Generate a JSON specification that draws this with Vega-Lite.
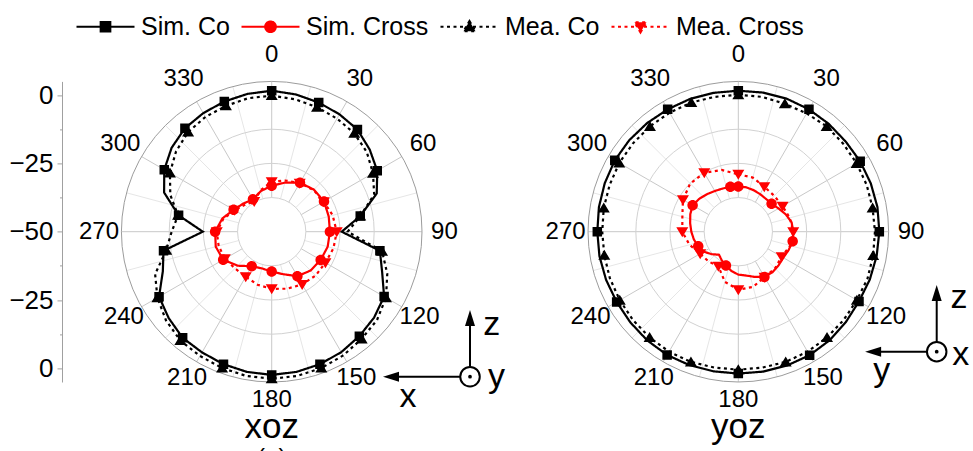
{
  "$schema": "https://vega.github.io/schema/vega-lite/v6.json",
  "width": 911,
  "height": 300.6,
  "autosize": {"type": "none"},
  "padding": {"left": 62, "top": 81.4, "right": 0, "bottom": 69},
  "config": {"view": {"stroke": null}, "font": "Liberation Sans"},
  "resolve": {"axis": {"y": "independent"}},
  "datasets": {
    "rings": [
      {"plot": "xoz", "db": -37.5}, {"plot": "xoz", "db": -25}, {"plot": "xoz", "db": -12.5}, {"plot": "xoz", "db": 5},
      {"plot": "yoz", "db": -37.5}, {"plot": "yoz", "db": -25}, {"plot": "yoz", "db": -12.5}, {"plot": "yoz", "db": 5}
    ],
    "spokes": [
      {"plot": "xoz", "angle": 0}, {"plot": "xoz", "angle": 15}, {"plot": "xoz", "angle": 30}, {"plot": "xoz", "angle": 45},
      {"plot": "xoz", "angle": 60}, {"plot": "xoz", "angle": 75}, {"plot": "xoz", "angle": 90}, {"plot": "xoz", "angle": 105},
      {"plot": "xoz", "angle": 120}, {"plot": "xoz", "angle": 135}, {"plot": "xoz", "angle": 150}, {"plot": "xoz", "angle": 165},
      {"plot": "xoz", "angle": 180}, {"plot": "xoz", "angle": 195}, {"plot": "xoz", "angle": 210}, {"plot": "xoz", "angle": 225},
      {"plot": "xoz", "angle": 240}, {"plot": "xoz", "angle": 255}, {"plot": "xoz", "angle": 270}, {"plot": "xoz", "angle": 285},
      {"plot": "xoz", "angle": 300}, {"plot": "xoz", "angle": 315}, {"plot": "xoz", "angle": 330}, {"plot": "xoz", "angle": 345},
      {"plot": "yoz", "angle": 0}, {"plot": "yoz", "angle": 15}, {"plot": "yoz", "angle": 30}, {"plot": "yoz", "angle": 45},
      {"plot": "yoz", "angle": 60}, {"plot": "yoz", "angle": 75}, {"plot": "yoz", "angle": 90}, {"plot": "yoz", "angle": 105},
      {"plot": "yoz", "angle": 120}, {"plot": "yoz", "angle": 135}, {"plot": "yoz", "angle": 150}, {"plot": "yoz", "angle": 165},
      {"plot": "yoz", "angle": 180}, {"plot": "yoz", "angle": 195}, {"plot": "yoz", "angle": 210}, {"plot": "yoz", "angle": 225},
      {"plot": "yoz", "angle": 240}, {"plot": "yoz", "angle": 255}, {"plot": "yoz", "angle": 270}, {"plot": "yoz", "angle": 285},
      {"plot": "yoz", "angle": 300}, {"plot": "yoz", "angle": 315}, {"plot": "yoz", "angle": 330}, {"plot": "yoz", "angle": 345}
    ],
    "curves": [
      {"plot": "xoz", "series": "Sim. Co", "angle": 0, "db": 1.6}, {"plot": "xoz", "series": "Sim. Co", "angle": 10, "db": 1.0},
      {"plot": "xoz", "series": "Sim. Co", "angle": 20, "db": 0.3}, {"plot": "xoz", "series": "Sim. Co", "angle": 30, "db": -0.4},
      {"plot": "xoz", "series": "Sim. Co", "angle": 40, "db": -1.2}, {"plot": "xoz", "series": "Sim. Co", "angle": 50, "db": -3.2},
      {"plot": "xoz", "series": "Sim. Co", "angle": 60, "db": -5.4}, {"plot": "xoz", "series": "Sim. Co", "angle": 70, "db": -9.1},
      {"plot": "xoz", "series": "Sim. Co", "angle": 80, "db": -17.1}, {"plot": "xoz", "series": "Sim. Co", "angle": 90, "db": -24.4},
      {"plot": "xoz", "series": "Sim. Co", "angle": 100, "db": -9.8}, {"plot": "xoz", "series": "Sim. Co", "angle": 110, "db": -7.0},
      {"plot": "xoz", "series": "Sim. Co", "angle": 120, "db": -2.5}, {"plot": "xoz", "series": "Sim. Co", "angle": 130, "db": -1.1},
      {"plot": "xoz", "series": "Sim. Co", "angle": 140, "db": -0.1}, {"plot": "xoz", "series": "Sim. Co", "angle": 150, "db": 0.9},
      {"plot": "xoz", "series": "Sim. Co", "angle": 160, "db": 1.6}, {"plot": "xoz", "series": "Sim. Co", "angle": 170, "db": 2.1},
      {"plot": "xoz", "series": "Sim. Co", "angle": 180, "db": 2.4}, {"plot": "xoz", "series": "Sim. Co", "angle": 190, "db": 2.1},
      {"plot": "xoz", "series": "Sim. Co", "angle": 200, "db": 1.6}, {"plot": "xoz", "series": "Sim. Co", "angle": 210, "db": 1.0},
      {"plot": "xoz", "series": "Sim. Co", "angle": 220, "db": 0.7}, {"plot": "xoz", "series": "Sim. Co", "angle": 230, "db": -0.8},
      {"plot": "xoz", "series": "Sim. Co", "angle": 240, "db": -2.4}, {"plot": "xoz", "series": "Sim. Co", "angle": 250, "db": -7.6},
      {"plot": "xoz", "series": "Sim. Co", "angle": 260, "db": -9.8}, {"plot": "xoz", "series": "Sim. Co", "angle": 270, "db": -24.8},
      {"plot": "xoz", "series": "Sim. Co", "angle": 280, "db": -15.4}, {"plot": "xoz", "series": "Sim. Co", "angle": 290, "db": -8.1},
      {"plot": "xoz", "series": "Sim. Co", "angle": 300, "db": -4.6}, {"plot": "xoz", "series": "Sim. Co", "angle": 310, "db": -2.2},
      {"plot": "xoz", "series": "Sim. Co", "angle": 320, "db": -0.6}, {"plot": "xoz", "series": "Sim. Co", "angle": 330, "db": 0.1},
      {"plot": "xoz", "series": "Sim. Co", "angle": 340, "db": 0.7}, {"plot": "xoz", "series": "Sim. Co", "angle": 350, "db": 1.2},
      {"plot": "xoz", "series": "Sim. Co", "angle": 360, "db": 1.6},

      {"plot": "xoz", "series": "Mea. Co", "angle": 0, "db": -0.2}, {"plot": "xoz", "series": "Mea. Co", "angle": 10, "db": -0.8},
      {"plot": "xoz", "series": "Mea. Co", "angle": 20, "db": -1.5}, {"plot": "xoz", "series": "Mea. Co", "angle": 30, "db": -2.2},
      {"plot": "xoz", "series": "Mea. Co", "angle": 40, "db": -3.0}, {"plot": "xoz", "series": "Mea. Co", "angle": 50, "db": -4.6},
      {"plot": "xoz", "series": "Mea. Co", "angle": 60, "db": -7.2}, {"plot": "xoz", "series": "Mea. Co", "angle": 70, "db": -10.1},
      {"plot": "xoz", "series": "Mea. Co", "angle": 80, "db": -17.1}, {"plot": "xoz", "series": "Mea. Co", "angle": 90, "db": -22.2},
      {"plot": "xoz", "series": "Mea. Co", "angle": 100, "db": -9.0}, {"plot": "xoz", "series": "Mea. Co", "angle": 110, "db": -5.0},
      {"plot": "xoz", "series": "Mea. Co", "angle": 120, "db": -1.7}, {"plot": "xoz", "series": "Mea. Co", "angle": 130, "db": 0.3},
      {"plot": "xoz", "series": "Mea. Co", "angle": 140, "db": 1.2}, {"plot": "xoz", "series": "Mea. Co", "angle": 150, "db": 2.3},
      {"plot": "xoz", "series": "Mea. Co", "angle": 160, "db": 3.1}, {"plot": "xoz", "series": "Mea. Co", "angle": 170, "db": 3.6},
      {"plot": "xoz", "series": "Mea. Co", "angle": 180, "db": 3.8}, {"plot": "xoz", "series": "Mea. Co", "angle": 190, "db": 3.6},
      {"plot": "xoz", "series": "Mea. Co", "angle": 200, "db": 3.1}, {"plot": "xoz", "series": "Mea. Co", "angle": 210, "db": 2.5},
      {"plot": "xoz", "series": "Mea. Co", "angle": 220, "db": 2.0}, {"plot": "xoz", "series": "Mea. Co", "angle": 230, "db": 0.5},
      {"plot": "xoz", "series": "Mea. Co", "angle": 240, "db": -1.7}, {"plot": "xoz", "series": "Mea. Co", "angle": 250, "db": -4.6},
      {"plot": "xoz", "series": "Mea. Co", "angle": 260, "db": -10.8}, {"plot": "xoz", "series": "Mea. Co", "angle": 270, "db": -13.4},
      {"plot": "xoz", "series": "Mea. Co", "angle": 280, "db": -15.2}, {"plot": "xoz", "series": "Mea. Co", "angle": 290, "db": -10.5},
      {"plot": "xoz", "series": "Mea. Co", "angle": 300, "db": -7.0}, {"plot": "xoz", "series": "Mea. Co", "angle": 310, "db": -4.3},
      {"plot": "xoz", "series": "Mea. Co", "angle": 320, "db": -2.4}, {"plot": "xoz", "series": "Mea. Co", "angle": 330, "db": -1.5},
      {"plot": "xoz", "series": "Mea. Co", "angle": 340, "db": -1.0}, {"plot": "xoz", "series": "Mea. Co", "angle": 350, "db": -0.4},
      {"plot": "xoz", "series": "Mea. Co", "angle": 360, "db": -0.2},

      {"plot": "xoz", "series": "Sim. Cross", "angle": 0, "db": -33.2}, {"plot": "xoz", "series": "Sim. Cross", "angle": 15, "db": -31.4},
      {"plot": "xoz", "series": "Sim. Cross", "angle": 30, "db": -29.3}, {"plot": "xoz", "series": "Sim. Cross", "angle": 45, "db": -28.2},
      {"plot": "xoz", "series": "Sim. Cross", "angle": 60, "db": -27.9}, {"plot": "xoz", "series": "Sim. Cross", "angle": 75, "db": -28.4},
      {"plot": "xoz", "series": "Sim. Cross", "angle": 90, "db": -28.7}, {"plot": "xoz", "series": "Sim. Cross", "angle": 105, "db": -28.8},
      {"plot": "xoz", "series": "Sim. Cross", "angle": 120, "db": -29.3}, {"plot": "xoz", "series": "Sim. Cross", "angle": 135, "db": -29.9},
      {"plot": "xoz", "series": "Sim. Cross", "angle": 150, "db": -31.2}, {"plot": "xoz", "series": "Sim. Cross", "angle": 165, "db": -33.9},
      {"plot": "xoz", "series": "Sim. Cross", "angle": 180, "db": -35.4}, {"plot": "xoz", "series": "Sim. Cross", "angle": 195, "db": -36.1},
      {"plot": "xoz", "series": "Sim. Cross", "angle": 210, "db": -35.4}, {"plot": "xoz", "series": "Sim. Cross", "angle": 225, "db": -32.4},
      {"plot": "xoz", "series": "Sim. Cross", "angle": 240, "db": -29.5}, {"plot": "xoz", "series": "Sim. Cross", "angle": 255, "db": -28.8},
      {"plot": "xoz", "series": "Sim. Cross", "angle": 270, "db": -29.3}, {"plot": "xoz", "series": "Sim. Cross", "angle": 285, "db": -31.3},
      {"plot": "xoz", "series": "Sim. Cross", "angle": 300, "db": -33.9}, {"plot": "xoz", "series": "Sim. Cross", "angle": 315, "db": -35.4},
      {"plot": "xoz", "series": "Sim. Cross", "angle": 330, "db": -36.3}, {"plot": "xoz", "series": "Sim. Cross", "angle": 345, "db": -34.6},
      {"plot": "xoz", "series": "Sim. Cross", "angle": 360, "db": -33.2},

      {"plot": "xoz", "series": "Mea. Cross", "angle": 0, "db": -31.7}, {"plot": "xoz", "series": "Mea. Cross", "angle": 15, "db": -30.6},
      {"plot": "xoz", "series": "Mea. Cross", "angle": 30, "db": -29.5}, {"plot": "xoz", "series": "Mea. Cross", "angle": 45, "db": -28.4},
      {"plot": "xoz", "series": "Mea. Cross", "angle": 60, "db": -28.0}, {"plot": "xoz", "series": "Mea. Cross", "angle": 75, "db": -26.9},
      {"plot": "xoz", "series": "Mea. Cross", "angle": 90, "db": -26.2}, {"plot": "xoz", "series": "Mea. Cross", "angle": 105, "db": -26.6},
      {"plot": "xoz", "series": "Mea. Cross", "angle": 120, "db": -27.3}, {"plot": "xoz", "series": "Mea. Cross", "angle": 135, "db": -27.3},
      {"plot": "xoz", "series": "Mea. Cross", "angle": 150, "db": -27.7}, {"plot": "xoz", "series": "Mea. Cross", "angle": 165, "db": -28.4},
      {"plot": "xoz", "series": "Mea. Cross", "angle": 180, "db": -29.1}, {"plot": "xoz", "series": "Mea. Cross", "angle": 195, "db": -29.9},
      {"plot": "xoz", "series": "Mea. Cross", "angle": 210, "db": -31.0}, {"plot": "xoz", "series": "Mea. Cross", "angle": 225, "db": -31.0},
      {"plot": "xoz", "series": "Mea. Cross", "angle": 240, "db": -30.2}, {"plot": "xoz", "series": "Mea. Cross", "angle": 255, "db": -29.9},
      {"plot": "xoz", "series": "Mea. Cross", "angle": 270, "db": -29.9}, {"plot": "xoz", "series": "Mea. Cross", "angle": 285, "db": -31.7},
      {"plot": "xoz", "series": "Mea. Cross", "angle": 300, "db": -34.3}, {"plot": "xoz", "series": "Mea. Cross", "angle": 315, "db": -36.1},
      {"plot": "xoz", "series": "Mea. Cross", "angle": 330, "db": -37.2}, {"plot": "xoz", "series": "Mea. Cross", "angle": 345, "db": -34.3},
      {"plot": "xoz", "series": "Mea. Cross", "angle": 360, "db": -31.7},

      {"plot": "yoz", "series": "Sim. Co", "angle": 0, "db": 1.6}, {"plot": "yoz", "series": "Sim. Co", "angle": 10, "db": 1.7},
      {"plot": "yoz", "series": "Sim. Co", "angle": 20, "db": 1.8}, {"plot": "yoz", "series": "Sim. Co", "angle": 30, "db": 1.7},
      {"plot": "yoz", "series": "Sim. Co", "angle": 40, "db": 1.5}, {"plot": "yoz", "series": "Sim. Co", "angle": 50, "db": 1.3},
      {"plot": "yoz", "series": "Sim. Co", "angle": 60, "db": 1.5}, {"plot": "yoz", "series": "Sim. Co", "angle": 70, "db": 1.6},
      {"plot": "yoz", "series": "Sim. Co", "angle": 80, "db": 1.7}, {"plot": "yoz", "series": "Sim. Co", "angle": 90, "db": 1.6},
      {"plot": "yoz", "series": "Sim. Co", "angle": 100, "db": 1.4}, {"plot": "yoz", "series": "Sim. Co", "angle": 110, "db": 1.2},
      {"plot": "yoz", "series": "Sim. Co", "angle": 120, "db": 1.0}, {"plot": "yoz", "series": "Sim. Co", "angle": 130, "db": 1.4},
      {"plot": "yoz", "series": "Sim. Co", "angle": 140, "db": 1.9}, {"plot": "yoz", "series": "Sim. Co", "angle": 150, "db": 2.2},
      {"plot": "yoz", "series": "Sim. Co", "angle": 160, "db": 2.1}, {"plot": "yoz", "series": "Sim. Co", "angle": 170, "db": 2.0},
      {"plot": "yoz", "series": "Sim. Co", "angle": 180, "db": 1.9}, {"plot": "yoz", "series": "Sim. Co", "angle": 190, "db": 1.9},
      {"plot": "yoz", "series": "Sim. Co", "angle": 200, "db": 2.0}, {"plot": "yoz", "series": "Sim. Co", "angle": 210, "db": 2.1},
      {"plot": "yoz", "series": "Sim. Co", "angle": 220, "db": 1.9}, {"plot": "yoz", "series": "Sim. Co", "angle": 230, "db": 1.6},
      {"plot": "yoz", "series": "Sim. Co", "angle": 240, "db": 1.4}, {"plot": "yoz", "series": "Sim. Co", "angle": 250, "db": 1.5},
      {"plot": "yoz", "series": "Sim. Co", "angle": 260, "db": 1.6}, {"plot": "yoz", "series": "Sim. Co", "angle": 270, "db": 1.6},
      {"plot": "yoz", "series": "Sim. Co", "angle": 280, "db": 1.8}, {"plot": "yoz", "series": "Sim. Co", "angle": 290, "db": 2.0},
      {"plot": "yoz", "series": "Sim. Co", "angle": 300, "db": 2.2}, {"plot": "yoz", "series": "Sim. Co", "angle": 310, "db": 2.1},
      {"plot": "yoz", "series": "Sim. Co", "angle": 320, "db": 1.9}, {"plot": "yoz", "series": "Sim. Co", "angle": 330, "db": 1.7},
      {"plot": "yoz", "series": "Sim. Co", "angle": 340, "db": 1.7}, {"plot": "yoz", "series": "Sim. Co", "angle": 350, "db": 1.6},
      {"plot": "yoz", "series": "Sim. Co", "angle": 360, "db": 1.6},

      {"plot": "yoz", "series": "Mea. Co", "angle": 0, "db": 0.1}, {"plot": "yoz", "series": "Mea. Co", "angle": 10, "db": 0.1},
      {"plot": "yoz", "series": "Mea. Co", "angle": 20, "db": -0.2}, {"plot": "yoz", "series": "Mea. Co", "angle": 30, "db": 0.0},
      {"plot": "yoz", "series": "Mea. Co", "angle": 40, "db": 0.3}, {"plot": "yoz", "series": "Mea. Co", "angle": 50, "db": 0.1},
      {"plot": "yoz", "series": "Mea. Co", "angle": 60, "db": 0.0}, {"plot": "yoz", "series": "Mea. Co", "angle": 70, "db": 0.0},
      {"plot": "yoz", "series": "Mea. Co", "angle": 80, "db": -0.1}, {"plot": "yoz", "series": "Mea. Co", "angle": 90, "db": 0.0},
      {"plot": "yoz", "series": "Mea. Co", "angle": 100, "db": 0.1}, {"plot": "yoz", "series": "Mea. Co", "angle": 110, "db": 0.3},
      {"plot": "yoz", "series": "Mea. Co", "angle": 120, "db": 0.1}, {"plot": "yoz", "series": "Mea. Co", "angle": 130, "db": 0.3},
      {"plot": "yoz", "series": "Mea. Co", "angle": 140, "db": 0.5}, {"plot": "yoz", "series": "Mea. Co", "angle": 150, "db": 0.7},
      {"plot": "yoz", "series": "Mea. Co", "angle": 160, "db": 0.7}, {"plot": "yoz", "series": "Mea. Co", "angle": 170, "db": 0.5},
      {"plot": "yoz", "series": "Mea. Co", "angle": 180, "db": 0.5}, {"plot": "yoz", "series": "Mea. Co", "angle": 190, "db": 0.5},
      {"plot": "yoz", "series": "Mea. Co", "angle": 200, "db": 0.7}, {"plot": "yoz", "series": "Mea. Co", "angle": 210, "db": 0.7},
      {"plot": "yoz", "series": "Mea. Co", "angle": 220, "db": 0.5}, {"plot": "yoz", "series": "Mea. Co", "angle": 230, "db": 0.3},
      {"plot": "yoz", "series": "Mea. Co", "angle": 240, "db": 0.1}, {"plot": "yoz", "series": "Mea. Co", "angle": 250, "db": 0.0},
      {"plot": "yoz", "series": "Mea. Co", "angle": 260, "db": -0.2}, {"plot": "yoz", "series": "Mea. Co", "angle": 270, "db": -0.2},
      {"plot": "yoz", "series": "Mea. Co", "angle": 280, "db": 0.0}, {"plot": "yoz", "series": "Mea. Co", "angle": 290, "db": 0.1},
      {"plot": "yoz", "series": "Mea. Co", "angle": 300, "db": 0.3}, {"plot": "yoz", "series": "Mea. Co", "angle": 310, "db": 0.3},
      {"plot": "yoz", "series": "Mea. Co", "angle": 320, "db": 0.3}, {"plot": "yoz", "series": "Mea. Co", "angle": 330, "db": 0.3},
      {"plot": "yoz", "series": "Mea. Co", "angle": 340, "db": 0.3}, {"plot": "yoz", "series": "Mea. Co", "angle": 350, "db": 0.1},
      {"plot": "yoz", "series": "Mea. Co", "angle": 360, "db": 0.1},

      {"plot": "yoz", "series": "Sim. Cross", "angle": 0, "db": -33.5}, {"plot": "yoz", "series": "Sim. Cross", "angle": 10, "db": -33.5},
      {"plot": "yoz", "series": "Sim. Cross", "angle": 20, "db": -33.8}, {"plot": "yoz", "series": "Sim. Cross", "angle": 30, "db": -34.1},
      {"plot": "yoz", "series": "Sim. Cross", "angle": 40, "db": -34.3}, {"plot": "yoz", "series": "Sim. Cross", "angle": 50, "db": -34.1},
      {"plot": "yoz", "series": "Sim. Cross", "angle": 60, "db": -33.0}, {"plot": "yoz", "series": "Sim. Cross", "angle": 70, "db": -31.5},
      {"plot": "yoz", "series": "Sim. Cross", "angle": 80, "db": -30.2}, {"plot": "yoz", "series": "Sim. Cross", "angle": 90, "db": -29.9},
      {"plot": "yoz", "series": "Sim. Cross", "angle": 100, "db": -29.8}, {"plot": "yoz", "series": "Sim. Cross", "angle": 110, "db": -30.4},
      {"plot": "yoz", "series": "Sim. Cross", "angle": 120, "db": -31.0}, {"plot": "yoz", "series": "Sim. Cross", "angle": 130, "db": -30.8},
      {"plot": "yoz", "series": "Sim. Cross", "angle": 140, "db": -30.6}, {"plot": "yoz", "series": "Sim. Cross", "angle": 150, "db": -30.9},
      {"plot": "yoz", "series": "Sim. Cross", "angle": 160, "db": -32.4}, {"plot": "yoz", "series": "Sim. Cross", "angle": 170, "db": -33.7},
      {"plot": "yoz", "series": "Sim. Cross", "angle": 180, "db": -34.3}, {"plot": "yoz", "series": "Sim. Cross", "angle": 190, "db": -35.4},
      {"plot": "yoz", "series": "Sim. Cross", "angle": 200, "db": -36.8}, {"plot": "yoz", "series": "Sim. Cross", "angle": 210, "db": -37.9},
      {"plot": "yoz", "series": "Sim. Cross", "angle": 220, "db": -39.0}, {"plot": "yoz", "series": "Sim. Cross", "angle": 230, "db": -37.2},
      {"plot": "yoz", "series": "Sim. Cross", "angle": 240, "db": -35.4}, {"plot": "yoz", "series": "Sim. Cross", "angle": 250, "db": -34.4},
      {"plot": "yoz", "series": "Sim. Cross", "angle": 260, "db": -33.5}, {"plot": "yoz", "series": "Sim. Cross", "angle": 270, "db": -32.8},
      {"plot": "yoz", "series": "Sim. Cross", "angle": 280, "db": -32.1}, {"plot": "yoz", "series": "Sim. Cross", "angle": 290, "db": -31.3},
      {"plot": "yoz", "series": "Sim. Cross", "angle": 300, "db": -30.7}, {"plot": "yoz", "series": "Sim. Cross", "angle": 310, "db": -31.3},
      {"plot": "yoz", "series": "Sim. Cross", "angle": 320, "db": -32.1}, {"plot": "yoz", "series": "Sim. Cross", "angle": 330, "db": -32.8},
      {"plot": "yoz", "series": "Sim. Cross", "angle": 340, "db": -33.2}, {"plot": "yoz", "series": "Sim. Cross", "angle": 350, "db": -33.3},
      {"plot": "yoz", "series": "Sim. Cross", "angle": 360, "db": -33.5},

      {"plot": "yoz", "series": "Mea. Cross", "angle": 0, "db": -29.0}, {"plot": "yoz", "series": "Mea. Cross", "angle": 15, "db": -29.5},
      {"plot": "yoz", "series": "Mea. Cross", "angle": 30, "db": -31.0}, {"plot": "yoz", "series": "Mea. Cross", "angle": 45, "db": -31.4},
      {"plot": "yoz", "series": "Mea. Cross", "angle": 60, "db": -31.3}, {"plot": "yoz", "series": "Mea. Cross", "angle": 75, "db": -30.5},
      {"plot": "yoz", "series": "Mea. Cross", "angle": 90, "db": -29.9}, {"plot": "yoz", "series": "Mea. Cross", "angle": 105, "db": -30.3},
      {"plot": "yoz", "series": "Mea. Cross", "angle": 120, "db": -31.7}, {"plot": "yoz", "series": "Mea. Cross", "angle": 135, "db": -31.0},
      {"plot": "yoz", "series": "Mea. Cross", "angle": 150, "db": -30.8}, {"plot": "yoz", "series": "Mea. Cross", "angle": 165, "db": -29.1},
      {"plot": "yoz", "series": "Mea. Cross", "angle": 180, "db": -28.8}, {"plot": "yoz", "series": "Mea. Cross", "angle": 195, "db": -31.0},
      {"plot": "yoz", "series": "Mea. Cross", "angle": 210, "db": -35.4}, {"plot": "yoz", "series": "Mea. Cross", "angle": 225, "db": -34.6},
      {"plot": "yoz", "series": "Mea. Cross", "angle": 240, "db": -33.9}, {"plot": "yoz", "series": "Mea. Cross", "angle": 255, "db": -31.5},
      {"plot": "yoz", "series": "Mea. Cross", "angle": 270, "db": -29.5}, {"plot": "yoz", "series": "Mea. Cross", "angle": 285, "db": -28.8},
      {"plot": "yoz", "series": "Mea. Cross", "angle": 300, "db": -26.6}, {"plot": "yoz", "series": "Mea. Cross", "angle": 315, "db": -25.1},
      {"plot": "yoz", "series": "Mea. Cross", "angle": 330, "db": -25.1}, {"plot": "yoz", "series": "Mea. Cross", "angle": 345, "db": -26.6},
      {"plot": "yoz", "series": "Mea. Cross", "angle": 360, "db": -29.0}
    ],
    "frames": [
      {"plot": "xoz", "part": "ring", "x": 72.57, "y": -53.06},
      {"plot": "xoz", "part": "shaft", "x": 72.57, "y": -49.4, "x2": 72.57, "y2": -31.5},
      {"plot": "xoz", "part": "shaft", "x": 68.91, "y": -53.06, "x2": 44.5, "y2": -53.06},
      {"plot": "xoz", "part": "headUp", "x": 72.57, "y": -28.65},
      {"plot": "xoz", "part": "headLeft", "x": 40.73, "y": -53.06},
      {"plot": "xoz", "part": "letter", "x": 80.5, "y": -37.8, "text": "z"},
      {"plot": "xoz", "part": "letter", "x": 82.3, "y": -56.7, "text": "y"},
      {"plot": "xoz", "part": "letter", "x": 49.9, "y": -64.0, "text": "x"},
      {"plot": "xoz", "part": "name", "x": 0, "y": -75.6, "text": "xoz"},
      {"plot": "xoz", "part": "caption", "x": 0, "y": -85.5, "text": "(a)"},
      {"plot": "yoz", "part": "ring", "x": 243.35, "y": -43.9},
      {"plot": "yoz", "part": "shaft", "x": 243.35, "y": -40.5, "x2": 243.35, "y2": -22.5},
      {"plot": "yoz", "part": "shaft", "x": 239.95, "y": -43.9, "x2": 220.2, "y2": -43.9},
      {"plot": "yoz", "part": "headUp", "x": 243.35, "y": -19.5},
      {"plot": "yoz", "part": "headLeft", "x": 217.15, "y": -43.9},
      {"plot": "yoz", "part": "letter", "x": 251.55, "y": -28.0, "text": "z"},
      {"plot": "yoz", "part": "letter", "x": 252.15, "y": -48.7, "text": "x"},
      {"plot": "yoz", "part": "letter", "x": 223.25, "y": -54.6, "text": "y"},
      {"plot": "yoz", "part": "name", "x": 170.75, "y": -75.6, "text": "yoz"}
    ]
  },
  "layer": [
    {
      "data": {"name": "spokes"},
      "transform": [
        {"calculate": "datum.angle * PI / 180", "as": "a"},
        {"calculate": "datum.plot == 'yoz' ? 170.75 : 0", "as": "cx"},
        {"calculate": "datum.cx + 12.5 * sin(datum.a)", "as": "xa"},
        {"calculate": "12.5 * cos(datum.a)", "as": "ya"},
        {"calculate": "datum.cx + 55 * sin(datum.a)", "as": "xb"},
        {"calculate": "55 * cos(datum.a)", "as": "yb"}
      ],
      "mark": {"type": "rule", "strokeWidth": 1},
      "encoding": {
        "x": {"field": "xa", "type": "quantitative", "scale": {"domain": [-76.74, 256.63], "nice": false, "zero": false}, "axis": null},
        "y": {"field": "ya", "type": "quantitative", "scale": {"domain": [-55, 55], "nice": false, "zero": false},
          "axis": {
            "orient": "left", "title": null, "grid": false, "domain": true, "ticks": true, "labels": true,
            "values": [-50, -37.5, -25, -12.5, 0, 12.5, 25, 37.5, 50],
            "labelExpr": "abs(datum.value) % 25 == 0 ? (abs(datum.value) == 50 ? '0' : '−' + (50 - abs(datum.value))) : ''",
            "tickSize": {"condition": {"test": "abs(datum.value) % 25 == 0", "value": 5}, "value": 2.5},
            "domainColor": "#a0a0a0", "tickColor": "#a0a0a0", "domainWidth": 1, "tickWidth": 1,
            "labelFontSize": 26, "labelFont": "Liberation Sans", "labelColor": "#000000",
            "labelPadding": 4, "labelFlush": false, "labelOverlap": false
          }
        },
        "x2": {"field": "xb"},
        "y2": {"field": "yb"},
        "stroke": {"condition": {"test": "datum.angle % 30 == 0", "value": "#c8c8c8"}, "value": "#e6e6e6"}
      }
    },
    {
      "data": {"name": "rings"},
      "transform": [
        {"calculate": "datum.db + 50", "as": "r"},
        {"calculate": "datum.plot == 'yoz' ? 170.75 : 0", "as": "cx"},
        {"calculate": "0", "as": "cy"}
      ],
      "mark": {"type": "point", "shape": "circle", "filled": false, "strokeWidth": 1, "opacity": 1},
      "encoding": {
        "x": {"field": "cx", "type": "quantitative", "scale": {"domain": [-76.74, 256.63], "nice": false, "zero": false}, "axis": null},
        "y": {"field": "cy", "type": "quantitative", "scale": {"domain": [-55, 55], "nice": false, "zero": false}, "axis": null},
        "size": {"field": "r", "type": "quantitative", "scale": {"type": "pow", "exponent": 2, "domain": [0, 55], "range": [0, 90358]}, "legend": null},
        "stroke": {"condition": {"test": "datum.db == 5", "value": "#9c9c9c"}, "value": "#d2d2d2"}
      }
    },
    {
      "data": {"name": "spokes"},
      "transform": [
        {"filter": "datum.angle % 30 == 0"},
        {"calculate": "datum.angle * PI / 180", "as": "a"},
        {"calculate": "datum.plot == 'yoz' ? 170.75 : 0", "as": "cx"},
        {"calculate": "63.2 + 1.5 * cos(datum.a)", "as": "lr"},
        {"calculate": "datum.cx + datum.lr * sin(datum.a)", "as": "lx"},
        {"calculate": "datum.lr * cos(datum.a)", "as": "ly"}
      ],
      "mark": {"type": "text", "fontSize": 24, "font": "Liberation Sans", "align": "center", "baseline": "middle", "color": "#000000"},
      "encoding": {
        "x": {"field": "lx", "type": "quantitative", "scale": {"domain": [-76.74, 256.63], "nice": false, "zero": false}, "axis": null},
        "y": {"field": "ly", "type": "quantitative", "scale": {"domain": [-55, 55], "nice": false, "zero": false}, "axis": null},
        "text": {"field": "angle", "type": "quantitative", "format": "d"}
      }
    },
    {
      "data": {"name": "curves"},
      "transform": [
        {"calculate": "datum.db + 50", "as": "r"},
        {"calculate": "datum.angle * PI / 180", "as": "a"},
        {"calculate": "(datum.plot == 'yoz' ? 170.75 : 0) + datum.r * sin(datum.a)", "as": "xpos"},
        {"calculate": "datum.r * cos(datum.a)", "as": "ypos"}
      ],
      "mark": {"type": "line", "strokeWidth": 2.2, "strokeJoin": "miter"},
      "encoding": {
        "x": {"field": "xpos", "type": "quantitative", "scale": {"domain": [-76.74, 256.63], "nice": false, "zero": false}, "axis": null},
        "y": {"field": "ypos", "type": "quantitative", "scale": {"domain": [-55, 55], "nice": false, "zero": false}, "axis": null},
        "detail": {"field": "plot"},
        "order": {"field": "angle", "type": "quantitative"},
        "color": {
          "field": "series", "type": "nominal",
          "scale": {"domain": ["Sim. Co", "Sim. Cross", "Mea. Co", "Mea. Cross"], "range": ["#000000", "#ff0000", "#000000", "#ff0000"]},
          "legend": {
            "orient": "none", "legendX": 13, "legendY": -85.4, "direction": "horizontal", "columns": 4,
            "title": null, "symbolSize": 3364, "symbolStrokeWidth": 2.2, "symbolOpacity": 1,
            "labelFontSize": 25, "labelFont": "Liberation Sans", "labelColor": "#000000", "labelLimit": 0,
            "labelOffset": 5, "columnPadding": 7
          }
        },
        "strokeDash": {
          "field": "series", "type": "nominal",
          "scale": {"domain": ["Sim. Co", "Sim. Cross", "Mea. Co", "Mea. Cross"], "range": [[1, 0], [1, 0], [3, 3.5], [3, 3.5]]}
        }
      }
    },
    {
      "data": {"name": "curves"},
      "transform": [
        {"filter": "datum.angle < 360 && datum.angle % (datum.plot == 'xoz' ? (datum.series == 'Sim. Co' || datum.series == 'Mea. Co' ? 20 : 30) : (datum.series == 'Sim. Co' ? 30 : datum.series == 'Mea. Co' ? 20 : datum.series == 'Sim. Cross' ? 50 : 30)) == 0"},
        {"calculate": "datum.db + 50", "as": "r"},
        {"calculate": "datum.angle * PI / 180", "as": "a"},
        {"calculate": "(datum.plot == 'yoz' ? 170.75 : 0) + datum.r * sin(datum.a)", "as": "xpos"},
        {"calculate": "datum.r * cos(datum.a)", "as": "ypos"}
      ],
      "mark": {"type": "point", "filled": true, "size": 3364, "opacity": 1},
      "encoding": {
        "x": {"field": "xpos", "type": "quantitative", "scale": {"domain": [-76.74, 256.63], "nice": false, "zero": false}, "axis": null},
        "y": {"field": "ypos", "type": "quantitative", "scale": {"domain": [-55, 55], "nice": false, "zero": false}, "axis": null},
        "color": {
          "field": "series", "type": "nominal",
          "scale": {"domain": ["Sim. Co", "Sim. Cross", "Mea. Co", "Mea. Cross"], "range": ["#000000", "#ff0000", "#000000", "#ff0000"]}
        },
        "shape": {
          "field": "series", "type": "nominal",
          "scale": {"domain": ["Sim. Co", "Sim. Cross", "Mea. Co", "Mea. Cross"], "range": [
            "M-1,0H1M-0.164,-0.164H0.164V0.164H-0.164Z",
            "M-1,0H1M0.181,0A0.181,0.181,0,1,1,-0.181,0A0.181,0.181,0,1,1,0.181,0Z",
            "M-1,0H1M0,-0.19L0.207,0.155L-0.207,0.155Z",
            "M-1,0H1M0,0.19L0.207,-0.155L-0.207,-0.155Z"
          ]}
        }
      }
    },
    {
      "data": {"name": "frames"},
      "transform": [{"filter": "datum.part == 'shaft'"}],
      "mark": {"type": "rule", "strokeWidth": 2, "color": "#000000"},
      "encoding": {
        "x": {"field": "x", "type": "quantitative", "scale": {"domain": [-76.74, 256.63], "nice": false, "zero": false}, "axis": null},
        "y": {"field": "y", "type": "quantitative", "scale": {"domain": [-55, 55], "nice": false, "zero": false}, "axis": null},
        "x2": {"field": "x2"},
        "y2": {"field": "y2"}
      }
    },
    {
      "data": {"name": "frames"},
      "transform": [{"filter": "datum.part == 'ring'"}],
      "mark": {"type": "point", "shape": "circle", "filled": false, "size": 380, "strokeWidth": 2, "color": "#000000", "opacity": 1},
      "encoding": {
        "x": {"field": "x", "type": "quantitative", "scale": {"domain": [-76.74, 256.63], "nice": false, "zero": false}, "axis": null},
        "y": {"field": "y", "type": "quantitative", "scale": {"domain": [-55, 55], "nice": false, "zero": false}, "axis": null}
      }
    },
    {
      "data": {"name": "frames"},
      "transform": [{"filter": "datum.part == 'ring'"}],
      "mark": {"type": "point", "shape": "circle", "filled": true, "size": 14, "color": "#000000", "opacity": 1},
      "encoding": {
        "x": {"field": "x", "type": "quantitative", "scale": {"domain": [-76.74, 256.63], "nice": false, "zero": false}, "axis": null},
        "y": {"field": "y", "type": "quantitative", "scale": {"domain": [-55, 55], "nice": false, "zero": false}, "axis": null}
      }
    },
    {
      "data": {"name": "frames"},
      "transform": [{"filter": "datum.part == 'headUp'"}],
      "mark": {"type": "point", "shape": "M0,0L-1.25,4L1.25,4Z", "filled": true, "size": 64, "color": "#000000", "opacity": 1},
      "encoding": {
        "x": {"field": "x", "type": "quantitative", "scale": {"domain": [-76.74, 256.63], "nice": false, "zero": false}, "axis": null},
        "y": {"field": "y", "type": "quantitative", "scale": {"domain": [-55, 55], "nice": false, "zero": false}, "axis": null}
      }
    },
    {
      "data": {"name": "frames"},
      "transform": [{"filter": "datum.part == 'headLeft'"}],
      "mark": {"type": "point", "shape": "M0,0L4,-1.25L4,1.25Z", "filled": true, "size": 64, "color": "#000000", "opacity": 1},
      "encoding": {
        "x": {"field": "x", "type": "quantitative", "scale": {"domain": [-76.74, 256.63], "nice": false, "zero": false}, "axis": null},
        "y": {"field": "y", "type": "quantitative", "scale": {"domain": [-55, 55], "nice": false, "zero": false}, "axis": null}
      }
    },
    {
      "data": {"name": "frames"},
      "transform": [{"filter": "datum.part == 'letter'"}],
      "mark": {"type": "text", "fontSize": 34, "font": "Liberation Sans", "align": "center", "baseline": "alphabetic", "color": "#000000"},
      "encoding": {
        "x": {"field": "x", "type": "quantitative", "scale": {"domain": [-76.74, 256.63], "nice": false, "zero": false}, "axis": null},
        "y": {"field": "y", "type": "quantitative", "scale": {"domain": [-55, 55], "nice": false, "zero": false}, "axis": null},
        "text": {"field": "text"}
      }
    },
    {
      "data": {"name": "frames"},
      "transform": [{"filter": "datum.part == 'name'"}],
      "mark": {"type": "text", "fontSize": 35, "font": "Liberation Sans", "align": "center", "baseline": "alphabetic", "color": "#000000"},
      "encoding": {
        "x": {"field": "x", "type": "quantitative", "scale": {"domain": [-76.74, 256.63], "nice": false, "zero": false}, "axis": null},
        "y": {"field": "y", "type": "quantitative", "scale": {"domain": [-55, 55], "nice": false, "zero": false}, "axis": null},
        "text": {"field": "text"}
      }
    },
    {
      "data": {"name": "frames"},
      "transform": [{"filter": "datum.part == 'caption'"}],
      "mark": {"type": "text", "fontSize": 24, "font": "Liberation Sans", "align": "center", "baseline": "alphabetic", "color": "#000000"},
      "encoding": {
        "x": {"field": "x", "type": "quantitative", "scale": {"domain": [-76.74, 256.63], "nice": false, "zero": false}, "axis": null},
        "y": {"field": "y", "type": "quantitative", "scale": {"domain": [-55, 55], "nice": false, "zero": false}, "axis": null},
        "text": {"field": "text"}
      }
    }
  ]
}
